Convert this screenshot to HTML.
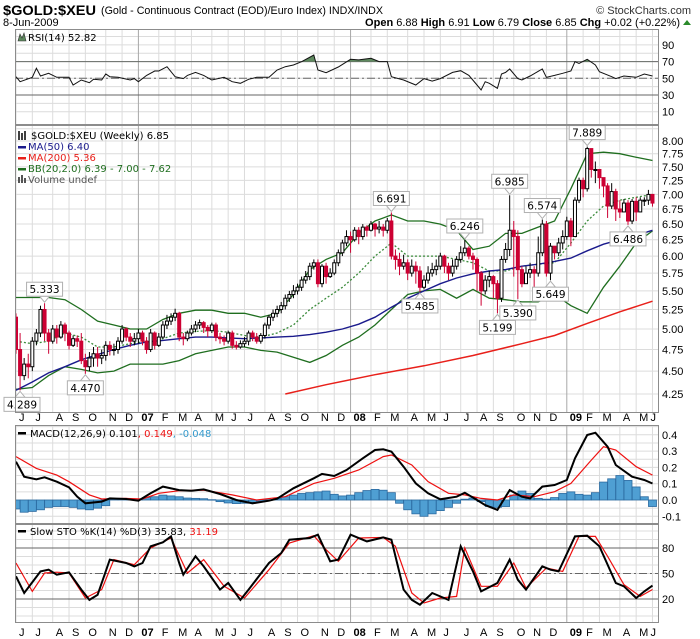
<!DOCTYPE html>
<html><head><meta charset="utf-8">
<style>
html,body{margin:0;padding:0;background:#fff;}
body{width:700px;height:639px;overflow:hidden;position:relative;font-family:"Liberation Sans",sans-serif;}
svg{position:absolute;left:0;top:0;}
</style></head>
<body>
<svg id="chart" width="700" height="639" viewBox="0 0 700 639" xmlns="http://www.w3.org/2000/svg">
  <text x="3" y="15" font-family="Liberation Sans, sans-serif" font-size="14" font-weight="bold" fill="#000" textLength="93" lengthAdjust="spacingAndGlyphs">$GOLD:$XEU</text>
  <text x="101" y="14" font-family="Liberation Sans, sans-serif" font-size="11" fill="#000" textLength="282" lengthAdjust="spacingAndGlyphs">(Gold - Continuous Contract (EOD)/Euro Index) INDX/INDX</text>
  <text x="691" y="14" text-anchor="end" font-family="Liberation Sans, sans-serif" font-size="11" fill="#333">© StockCharts.com</text>
  <text x="3" y="26" font-family="Liberation Sans, sans-serif" font-size="11" fill="#000">8-Jun-2009</text>
  <text x="680" y="26" text-anchor="end" font-family="Liberation Sans, sans-serif" font-size="11" fill="#000"><tspan font-weight="bold">Open</tspan> 6.88 <tspan font-weight="bold">High</tspan> 6.91 <tspan font-weight="bold">Low</tspan> 6.79 <tspan font-weight="bold">Close</tspan> 6.85 <tspan font-weight="bold">Chg</tspan> +0.02 (+0.22%)</text>
  <polygon points="683,25 691,25 687,20" fill="#2a8a2a"/>
</svg>
<script>
// ---------- DATA ----------
const closes = [4.75,4.45,4.58,4.55,4.85,4.95,5.25,4.95,4.85,5.00,
4.90,5.05,4.95,4.80,4.88,4.85,4.62,4.55,4.65,4.70,
4.65,4.68,4.80,4.75,4.75,4.85,5.00,4.90,4.85,4.88,
4.95,4.85,4.75,4.95,4.80,4.90,5.05,5.10,5.15,5.20,
4.90,4.88,4.95,5.00,5.05,5.08,5.02,4.98,5.05,4.90,
4.88,4.85,4.95,4.80,4.78,4.82,4.85,4.95,4.90,4.85,
4.92,5.05,5.15,5.20,5.25,5.30,5.40,5.45,5.50,5.55,
5.65,5.70,5.85,5.90,5.60,5.85,5.70,5.75,5.90,6.05,
6.20,6.30,6.25,6.40,6.30,6.45,6.40,6.50,6.42,6.45,
6.40,6.55,6.00,5.95,5.85,5.90,5.75,5.85,5.78,5.55,
5.65,5.75,5.80,5.85,6.00,5.85,5.75,5.85,5.95,6.05,
6.12,6.00,5.95,5.75,5.50,5.65,5.70,5.60,5.40,5.95,
6.10,6.40,6.30,5.80,5.60,5.75,5.80,5.75,6.05,6.50,
5.75,6.15,6.05,6.20,6.30,6.55,6.30,6.90,7.25,7.10,
7.85,7.45,7.45,7.30,7.15,6.80,7.05,6.75,6.70,6.85,
6.55,6.88,6.70,6.90,6.90,7.00,6.85];
const highs = [5.20,4.95,4.65,4.70,4.90,5.00,5.30,5.333,5.00,5.05,
5.05,5.10,5.08,4.98,4.92,4.92,4.95,4.70,4.72,4.78,
4.78,4.75,4.85,4.85,4.82,4.90,5.05,5.02,4.95,4.95,
5.00,4.98,4.90,5.00,4.97,4.95,5.10,5.18,5.20,5.26,
5.22,4.95,4.98,5.05,5.10,5.12,5.10,5.05,5.08,5.08,
4.95,4.92,4.98,4.98,4.85,4.86,4.90,4.98,4.98,4.95,
4.95,5.08,5.18,5.25,5.30,5.35,5.45,5.50,5.58,5.60,
5.70,5.78,5.90,5.95,5.95,5.88,5.90,5.82,5.95,6.10,
6.25,6.40,6.38,6.45,6.45,6.50,6.48,6.55,6.52,6.55,
6.50,6.60,6.691,6.10,6.05,6.02,5.95,5.95,5.92,5.85,
5.72,5.85,5.90,5.95,6.05,6.02,5.90,5.95,6.00,6.15,
6.246,6.15,6.05,5.98,5.78,5.72,5.78,5.72,5.65,6.00,
6.20,6.985,6.55,6.40,5.85,5.85,5.90,5.85,6.30,6.574,
6.55,6.20,6.15,6.28,6.40,6.62,6.60,6.95,7.30,7.30,
7.889,7.85,7.60,7.35,7.25,7.20,7.20,7.10,6.90,6.92,
6.90,6.92,6.95,6.95,6.95,7.08,6.91];
const lows = [4.70,4.289,4.40,4.42,4.50,4.80,4.90,4.85,4.70,4.82,
4.82,4.88,4.85,4.75,4.78,4.78,4.58,4.47,4.50,4.55,
4.55,4.58,4.62,4.68,4.68,4.70,4.82,4.85,4.78,4.80,
4.82,4.80,4.70,4.72,4.75,4.78,4.88,5.00,5.05,5.10,
4.85,4.80,4.85,4.92,4.96,5.00,4.95,4.90,4.95,4.85,
4.82,4.80,4.82,4.76,4.75,4.76,4.78,4.80,4.85,4.82,
4.82,4.88,5.00,5.10,5.15,5.20,5.25,5.35,5.40,5.45,
5.50,5.60,5.65,5.80,5.55,5.55,5.60,5.68,5.72,5.85,
6.00,6.15,6.05,6.22,6.18,6.25,6.30,6.38,6.30,6.35,
6.30,6.35,5.95,5.80,5.72,5.80,5.65,5.70,5.60,5.485,
5.52,5.60,5.70,5.72,5.80,5.75,5.65,5.70,5.80,5.90,
6.00,5.95,5.80,5.50,5.30,5.45,5.55,5.40,5.199,5.35,
5.90,6.00,5.70,5.390,5.55,5.60,5.68,5.55,5.70,6.00,
5.70,5.649,5.95,6.00,6.10,6.25,6.15,6.30,6.85,6.95,
7.05,7.30,7.20,7.10,6.95,6.60,6.75,6.55,6.60,6.70,
6.486,6.50,6.55,6.70,6.80,6.82,6.79];
const firstOpen = 5.15;

const lineWeeks = [0,4,8,12,16,20,24,28,32,36,40,44,48,52,56,60,64,68,72,76,80,84,88,92,96,100,104,108,112,116,120,124,128,132,136,140,144,148,152,156];
const ma50 = [4.29,4.38,4.48,4.55,4.63,4.69,4.75,4.80,4.84,4.86,4.88,4.90,4.90,4.89,4.88,4.89,4.90,4.91,4.93,4.96,5.00,5.06,5.15,5.28,5.40,5.50,5.60,5.68,5.74,5.78,5.80,5.85,5.88,5.92,5.97,6.08,6.18,6.25,6.32,6.40];
const bbUpper = [5.41,5.41,5.41,5.38,5.25,5.10,5.05,5.00,5.00,5.12,5.20,5.24,5.24,5.20,5.20,5.15,5.20,5.45,5.80,5.95,6.05,6.35,6.55,6.65,6.55,6.55,6.50,6.40,6.10,6.15,6.35,6.35,6.45,6.55,7.10,7.75,7.78,7.75,7.68,7.62];
const bbLower = [4.30,4.32,4.45,4.55,4.52,4.48,4.50,4.58,4.58,4.58,4.62,4.70,4.74,4.78,4.78,4.74,4.72,4.66,4.60,4.68,4.80,4.90,5.05,5.25,5.45,5.50,5.52,5.40,5.52,5.40,5.38,5.35,5.35,5.45,5.30,5.20,5.55,5.85,6.20,6.39];
const bbMiddle = [4.85,4.82,4.85,4.95,4.90,4.78,4.78,4.82,4.85,4.88,4.95,4.97,4.98,4.96,4.92,4.90,4.95,5.05,5.25,5.40,5.55,5.75,6.00,6.20,6.00,6.00,6.00,5.95,5.90,5.78,5.78,5.85,5.88,5.90,6.20,6.55,6.80,6.90,6.95,7.00];
const ma200Weeks = [66,76,88,100,112,124,132,140,148,156];
const ma200 = [4.25,4.35,4.46,4.56,4.68,4.82,4.92,5.07,5.22,5.36];

const annWeeks = [7,1,17,92,99,110,118,121,123,129,131,140,150];
const annPrices = [5.333,4.289,4.470,6.691,5.485,6.246,5.199,6.985,5.390,6.574,5.649,7.889,6.486];
const annAbove = [true,false,false,true,false,true,false,true,false,true,false,true,false];

const rsiWeeks = [0,1,4,5,6,8,10,13,14,16,18,19,21,22,23,25,28,29,30,32,34,35,37,39,41,42,44,46,48,51,53,55,57,59,62,64,66,68,70,73,74,76,79,82,84,87,89,91,92,95,98,100,102,104,107,109,111,113,114,115,116,118,119,120,121,123,124,126,129,130,132,134,136,137,138,140,142,143,146,147,149,152,154,156];
const rsiVals = [51.9,45.9,51.2,62,52.8,56,51.2,51.2,42,48,44.7,48.8,48,55.1,51.9,51.2,48,49.6,45.9,53.5,58.7,58.7,63.9,51.9,49.6,53.5,57.1,53.5,48,51.2,45.9,44,48.8,51.2,51.2,59.9,63.9,65.9,69.9,77.9,59.9,56.7,63.5,72.7,72,74,70,70,51.9,48,42,49.6,46.7,49.6,57.1,59.1,53.5,42,36,45.9,44,38,55.1,57.1,61.1,49.6,48,52.7,61.1,51.2,53.5,56,58.7,69.9,67.8,72.7,65.9,57.9,51.9,49.6,52.7,51.2,55.1,52.8];

const macdWeeks = [0,2,5,7,10,13,15,17,21,23,27,30,33,36,40,43,46,50,54,58,62,64,68,73,75,78,81,85,88,90,92,95,98,101,104,108,110,113,115,118,120,121,124,126,129,132,135,137,140,142,145,147,151,154,156];
const macdVals = [0.235,0.143,0.127,0.139,0.112,0.078,0.02,-0.02,-0.01,0.01,0.006,-0.004,0.041,0.082,0.061,0.057,0.065,0.037,0,-0.02,-0.004,0.008,0.072,0.133,0.16,0.147,0.184,0.256,0.307,0.311,0.297,0.204,0.102,0.041,0.004,0.02,0.045,0,-0.031,-0.061,0.02,0.061,0.02,0.01,0.082,0.092,0.123,0.256,0.399,0.413,0.327,0.215,0.143,0.123,0.101];
const signalWeeks = [0,5,10,13,18,21,27,31,35,40,46,53,59,66,73,78,84,90,92,97,101,106,110,114,118,122,127,132,136,141,144,147,152,156];
const signalVals = [0.266,0.194,0.153,0.112,0.031,0.006,0.01,0.006,0.041,0.057,0.061,0.031,0,0.02,0.102,0.133,0.184,0.266,0.276,0.215,0.112,0.041,0.031,0.01,0,0.031,0.02,0.051,0.102,0.245,0.327,0.307,0.204,0.153];
const histWeeks = [0,2,4,6,8,10,12,14,16,18,20,22,24,26,28,30,32,34,36,38,40,42,44,46,48,50,52,54,56,58,60,62,64,66,68,70,72,74,76,78,80,82,84,86,88,90,92,94,96,98,100,102,104,106,108,110,112,114,116,118,120,122,124,126,128,130,132,134,136,138,140,142,144,146,148,150,152,154,156];
const histVals = [-0.055,-0.075,-0.07,-0.06,-0.045,-0.04,-0.04,-0.045,-0.055,-0.06,-0.05,-0.035,0.005,0.01,0.008,0.005,0.015,0.02,0.03,0.025,0.02,0.012,0.01,0.008,0.002,-0.01,-0.018,-0.022,-0.02,-0.015,-0.008,0.002,0.01,0.02,0.03,0.04,0.045,0.05,0.055,0.035,0.025,0.03,0.045,0.058,0.065,0.06,0.045,-0.02,-0.06,-0.085,-0.1,-0.085,-0.065,-0.045,-0.02,0.005,0.012,-0.01,-0.04,-0.045,-0.04,0.03,0.055,0.04,0.01,0.005,0.015,0.04,0.05,0.035,0.03,0.045,0.11,0.13,0.15,0.12,0.08,0.02,-0.04];

const stoKWeeks = [0,2,6,8,10,13,16,18,20,23,27,29,31,33,36,38,40,41,44,46,50,52,55,57,62,65,67,72,74,77,79,82,86,90,92,95,97,99,102,106,109,112,114,118,121,123,125,129,131,133,137,140,143,147,149,152,154,156];
const stoK = [46.7,27,52.5,54.5,48.6,51.4,31,19,25,66.3,62.4,58.4,62.4,82,86.7,93.7,62.4,48.6,70.2,58.4,31,38.8,19,31,62.4,74,89.8,91.8,95.7,64.3,66.3,95.7,87.8,92.5,89.8,31,19,13.3,27,19,82,52.5,29,38.8,66.3,42.7,31,58.4,54.5,52.5,93.7,94.5,82,38.8,35,21.2,29,35.8];
const stoDWeeks = [0,4,7,10,13,17,21,24,29,33,38,42,46,51,56,62,67,73,76,79,84,90,93,97,100,104,108,110,114,118,122,125,130,134,138,142,145,149,153,156];
const stoD = [62.4,29,50.6,51.5,50.6,21.2,31,66.3,60.4,80,91.8,50.6,66.3,35,21.2,54.5,85.9,94.5,78,64.3,91.8,92.5,82,27,15.3,21.2,23.1,80,35,35,62.4,33,56.5,52.5,93.7,93.7,70.2,36.9,23.1,31.2];

const monthWeeks = [0,4,9,13,17,22,26,30,35,39,43,48,52,56,61,65,69,74,78,82,87,91,96,100,104,109,113,117,122,126,130,135,139,143,148,152,156];
const monthLabels = ['J','J','A','S','O','N','D','07','F','M','A','M','J','J','A','S','O','N','D','08','F','M','A','M','J','J','A','S','O','N','D','09','F','M','A','M','J'];
const priceTicks = [4.25,4.50,4.75,5.00,5.25,5.50,5.75,6.00,6.25,6.50,6.75,7.00,7.25,7.50,7.75,8.00];
const rsiTicks = [90,70,50,30,10];
const macdTicks = [0.4,0.3,0.2,0.1,0.0,-0.1];
const stoTicks = [80,50,20];

// ---------- GEOMETRY ----------
const NS = 'http://www.w3.org/2000/svg';
const svg = document.getElementById('chart');
const L = 15, R = 659;
const P = { rsi:[29,125], main:[125,413], macd:[425,524], sto:[524,623] };
function xOf(i){ return 16 + i*4.08; }
function pY(p){ return 141 + (Math.log(8) - Math.log(p))*400; }
function rsiY(v){ return 78.3 - (v-50)*0.835; }
function macdY(v){ return 500 - v*163; }
function stoY(v){ return 599 - (v-20)*0.85; }
function el(tag, attrs, parent){
  const e = document.createElementNS(NS, tag);
  for (const k in attrs) e.setAttribute(k, attrs[k]);
  (parent||svg).appendChild(e);
  return e;
}
function pts(weeks, vals, yf){ return weeks.map((w,k)=>xOf(w).toFixed(1)+','+yf(vals[k]).toFixed(1)).join(' '); }

const defs = el('defs', {});
['rsi','main','macd','sto'].forEach(function(n){
  const cp = el('clipPath', {id:'clip-'+n}, defs);
  el('rect', {x:L, y:P[n][0], width:R-L, height:P[n][1]-P[n][0]}, cp);
});
const cpOB = el('clipPath', {id:'clip-ob'}, defs);
el('rect', {x:L, y:P.rsi[0], width:R-L, height:rsiY(70)-P.rsi[0]}, cpOB);

// ---------- GRIDS ----------
function panelGrid(name, hVals, yf){
  const g = el('g', {});
  
  
  hVals.forEach(function(v){
    const y = yf(v);
    if (y < P[name][0] || y > P[name][1]) return;
    const ln = el('line', {x1:L, x2:R, y1:y, y2:y, stroke:'#dcdcdc', 'stroke-width':1}, g);
    
    
  });
  monthWeeks.forEach(function(w, k){
    const x = xOf(w);
    const isYear = /\d/.test(monthLabels[k]);
    const ln = el('line', {x1:x, x2:x, y1:P[name][0], y2:P[name][1], stroke:isYear?'#a8a8a8':'#dcdcdc', 'stroke-width':1}, g);
    
    
  });
}
const rsiGridVals=[], macdGridVals=[], stoGridVals=[], priceGridVals=[];
for (let v=10; v<=100; v+=10) rsiGridVals.push(v);
for (let v=-0.15; v<=0.5; v+=0.05) macdGridVals.push(v);
for (let v=0; v<=100; v+=10) stoGridVals.push(v);
for (let v=4.0; v<=8.3; v+=0.25) priceGridVals.push(v);
panelGrid('rsi', rsiGridVals, rsiY);
panelGrid('main', priceGridVals, pY);
panelGrid('macd', macdGridVals, macdY);
panelGrid('sto', stoGridVals, stoY);

function refLine(name, y, dash){
  const ln = el('line', {x1:L, x2:R, y1:y, y2:y, stroke:'#666', 'stroke-width':1});
  if (dash) ln.setAttribute('stroke-dasharray', '8,3,2,3');
  
  
}
refLine('rsi-70-line', rsiY(70), false);
refLine('rsi-30-line', rsiY(30), false);
refLine('rsi-50-line', rsiY(50), true);
refLine('sto-80-line', stoY(80), false);
refLine('sto-20-line', stoY(20), false);
refLine('sto-50-line', stoY(50), true);

// ---------- RSI ----------
const rsiArea = el('polygon', {points: pts(rsiWeeks, rsiVals, rsiY)+' '+xOf(156)+','+rsiY(70)+' '+xOf(0)+','+rsiY(70), fill:'#5f8a5f', 'clip-path':'url(#clip-ob)'});


const rsiLine = el('polyline', {points: pts(rsiWeeks, rsiVals, rsiY), fill:'none', stroke:'#111', 'stroke-width':1, 'clip-path':'url(#clip-rsi)'});



// ---------- MAIN PRICE ----------
const gMain = el('g', {'clip-path':'url(#clip-main)'});


const bbU = el('polyline', {points: pts(lineWeeks, bbUpper, pY), fill:'none', stroke:'#1f6e1f', 'stroke-width':1.3}, gMain);


const bbL = el('polyline', {points: pts(lineWeeks, bbLower, pY), fill:'none', stroke:'#1f6e1f', 'stroke-width':1.3}, gMain);


const bbM = el('polyline', {points: pts(lineWeeks, bbMiddle, pY), fill:'none', stroke:'#3c8c3c', 'stroke-width':1.3, 'stroke-dasharray':'2,2'}, gMain);


const m50 = el('polyline', {points: pts(lineWeeks, ma50, pY), fill:'none', stroke:'#1a1a8c', 'stroke-width':1.4}, gMain);


const m200 = el('polyline', {points: pts(ma200Weeks, ma200, pY), fill:'none', stroke:'#e8201a', 'stroke-width':1.5}, gMain);



closes.forEach(function(c, i){
  const o = i===0 ? firstOpen : closes[i-1];
  const prev = i===0 ? firstOpen : closes[i-1];
  const x = xOf(i);
  const down = c < prev;
  const col = down ? '#cc0033' : '#000';
  const wick = el('line', {x1:x, x2:x, y1:pY(highs[i]), y2:pY(lows[i]), stroke:col, 'stroke-width':1}, gMain);
  
  
  const top = pY(Math.max(o,c)), bot = pY(Math.min(o,c));
  const body = el('rect', {x:x-1.5, y:top, width:3, height:Math.max(1, bot-top), fill: (c>o)?'#fff':col, stroke:col, 'stroke-width':1}, gMain);
  
  
});

annWeeks.forEach(function(w, k){
  const txt = annPrices[k].toFixed(3);
  const x = xOf(w);
  const bw = 36, bh = 14;
  let bx = Math.max(4, x - bw/2);
  const py = annAbove[k] ? pY(highs[w]) : pY(lows[w]);
  const by = annAbove[k] ? py - 7 - bh : py + 7;
  const g = el('g', {});
  
  
  const tri = el('polygon', {points: annAbove[k] ? (x-5)+','+(by+bh)+' '+(x+5)+','+(by+bh)+' '+x+','+(py-1) : (x-5)+','+by+' '+(x+5)+','+by+' '+x+','+(py+1), fill:'#fff', stroke:'#b0b0b0'}, g);
  
  
  const box = el('rect', {x:bx, y:by, width:bw, height:bh, fill:'#fff', stroke:'#b0b0b0'}, g);
  
  
  const t = el('text', {x:bx+bw/2, y:by+11, 'text-anchor':'middle', 'font-family':'DejaVu Sans, sans-serif', 'font-size':'10.5', fill:'#000'}, g);
  t.textContent = txt;
  
  
});

// ---------- MACD ----------
const gMacd = el('g', {'clip-path':'url(#clip-macd)'});


histWeeks.forEach(function(w, k){
  const v = histVals[k];
  const y0 = macdY(0), y1 = macdY(v);
  const b = el('rect', {x:xOf(w)-4, y:Math.min(y0,y1), width:8, height:Math.max(0.5, Math.abs(y1-y0)), fill:'#4f9fd3', stroke:'#2b6aa0', 'stroke-width':0.8}, gMacd);
  
  
});
const sigLine = el('polyline', {points: pts(signalWeeks, signalVals, macdY), fill:'none', stroke:'#ee1111', 'stroke-width':1.2}, gMacd);


const macdLine = el('polyline', {points: pts(macdWeeks, macdVals, macdY), fill:'none', stroke:'#000', 'stroke-width':2}, gMacd);



// ---------- STO ----------
const gSto = el('g', {'clip-path':'url(#clip-sto)'});


const dLine = el('polyline', {points: pts(stoDWeeks, stoD, stoY), fill:'none', stroke:'#ee1111', 'stroke-width':1.2}, gSto);


const kLine = el('polyline', {points: pts(stoKWeeks, stoK, stoY), fill:'none', stroke:'#000', 'stroke-width':2}, gSto);



['rsi','main','macd','sto'].forEach(function(n){
  const b = el('rect', {x:L+0.5, y:P[n][0]+0.5, width:R-L-1, height:P[n][1]-P[n][0]-1, fill:'none', stroke:'#8c8c8c', 'stroke-width':1});
  
  
});

function yLabels(name, ticks, yf, fmt){
  ticks.forEach(function(v){
    const t = el('text', {x:R+3, y:yf(v)+4, 'font-family':'Liberation Sans, sans-serif', 'font-size':'11', fill:'#000'});
    t.textContent = fmt(v);
    
    
  });
}
yLabels('rsi', rsiTicks, rsiY, function(v){return String(v);});
yLabels('price', priceTicks, pY, function(v){return v.toFixed(2);});
yLabels('macd', macdTicks, macdY, function(v){return v.toFixed(1);});
yLabels('sto', stoTicks, stoY, function(v){return String(v);});

[421, 636].forEach(function(yy){
  monthWeeks.forEach(function(w, k){
    const lab = monthLabels[k];
    const yr = /\d/.test(lab);
    const t = el('text', {x:xOf(w)+ (k===monthWeeks.length-1? -2 : 3), y:yy, 'font-family':'Liberation Sans, sans-serif', 'font-size':'11', 'font-weight': yr?'bold':'normal', fill:'#000'});
    t.textContent = lab;
    
    
  });
});

function legend(name, x, y, parts){
  const t = el('text', {x:x, y:y, 'font-family':'DejaVu Sans, sans-serif', 'font-size':'10', fill:'#000'});
  parts.forEach(function(p){
    const s = el('tspan', {fill:p[1]}, t);
    s.textContent = p[0];
  });
  
  
}
function swatch(name, x, y, col){
  const r = el('rect', {x:x, y:y, width:8, height:2.5, fill:col});
  
  
}
const rsiIcon = el('polygon', {points:'18,41 20,34 22,38 24,33 26,41', fill:'#5f8a5f', stroke:'#333', 'stroke-width':0.6});


legend('rsi-legend', 28, 41, [['RSI(14) 52.82','#000']]);
const candleIcon = el('path', {d:'M19,131 v9 M22,133 v7 M25,131 v9', stroke:'#000', 'stroke-width':1.5});


legend('price-legend', 31, 139, [['$GOLD:$XEU (Weekly) 6.85','#000']]);
swatch('ma50-swatch', 18, 146, '#1a1a8c');
legend('ma50-legend', 28, 150, [['MA(50) 6.40','#1a1a8c']]);
swatch('ma200-swatch', 18, 157, '#e8201a');
legend('ma200-legend', 28, 161, [['MA(200) 5.36','#e8201a']]);
swatch('bb-swatch', 18, 168, '#1f6e1f');
legend('bb-legend', 28, 172, [['BB(20,2.0) 6.39 - 7.00 - 7.62','#1f6e1f']]);
const volIcon = el('path', {d:'M19,183 v-6 M22,183 v-8 M25,183 v-5', stroke:'#555', 'stroke-width':2});


legend('volume-legend', 28, 183, [['Volume undef','#555']]);
swatch('macd-swatch', 18, 432, '#000');
legend('macd-legend', 30, 437, [['MACD(12,26,9) 0.101','#000'],[', 0.149','#ee1111'],[', -0.048','#3399cc']]);
swatch('sto-swatch', 18, 530, '#000');
legend('sto-legend', 30, 535, [['Slow STO %K(14) %D(3) 35.83, ','#000'],['31.19','#ee1111']]);
</script>
</body></html>
